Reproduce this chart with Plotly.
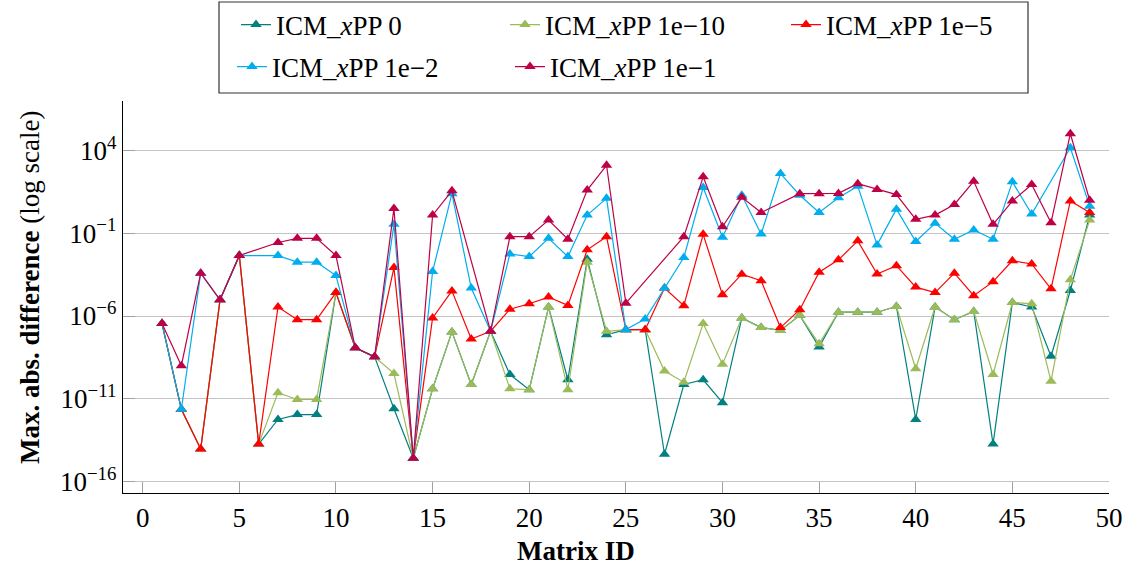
import plotly.graph_objects as go

matrix_id = list(range(1, 50))

icm_0 = [3.5e-7, 2.3e-12, 9e-15, 9.5e-6, 4.5e-3, 1.8e-14, 5.6e-13, 1.1e-12, 1.1e-12, 2.6e-5,
         1.2e-8, 3.4e-9, 2.5e-12, 2.5e-15, 4e-11, 1.1e-7, 7.2e-11, 1.2e-7, 2.9e-10, 3.5e-11,
         3.5e-6, 1.4e-10, 2.7e-3, 7.4e-8, 1.5e-7, 1.5e-7, 4.4e-15, 7.2e-11, 1.4e-10, 5.8e-12,
         7.6e-7, 2e-7, 1.35e-7, 1.1e-6, 1.35e-8, 1.7e-6, 1.7e-6, 1.7e-6, 3.8e-6, 5.6e-13,
         3.5e-6, 6e-7, 1.9e-6, 1.8e-14, 6.6e-6, 3.5e-6, 3.7e-9, 3.5e-5, 1.26]

icm_1e10 = [3.5e-7, 2.3e-12, 9e-15, 9.5e-6, 4.5e-3, 1.8e-14, 2.3e-11, 9e-12, 9e-12, 2.6e-5,
            1.2e-8, 3.4e-9, 3.3e-10, 2.5e-15, 4e-11, 1.1e-7, 7.2e-11, 1.2e-7, 4e-11, 3.5e-11,
            3.5e-6, 3.5e-11, 1.8e-3, 1.2e-7, 1.5e-7, 1.5e-7, 4.7e-10, 1e-10, 3.5e-7, 1.2e-9,
            7.6e-7, 2e-7, 1.35e-7, 1.1e-6, 2.1e-8, 1.7e-6, 1.7e-6, 1.7e-6, 3.8e-6, 6.5e-10,
            3.5e-6, 6e-7, 1.9e-6, 2.9e-10, 6.6e-6, 5.5e-6, 1.15e-10, 1.55e-4, 0.63]

icm_1e5 = [3.5e-7, 2.3e-12, 9e-15, 9.5e-6, 4.5e-3, 1.8e-14, 3.5e-6, 6e-7, 6e-7, 2.6e-5,
           1.2e-8, 3.4e-9, 8.5e-4, 2.5e-15, 7.6e-7, 3.3e-5, 4.1e-8, 1.2e-7, 2.6e-6, 5.5e-6,
           1.4e-5, 4.4e-6, 1e-2, 6.3e-2, 1.5e-7, 1.5e-7, 4.9e-5, 4.2e-6, 8.7e-2, 1.9e-5,
           3.4e-4, 1.35e-4, 2e-7, 2.4e-6, 4.5e-4, 2.5e-3, 3.5e-2, 3.5e-4, 1.1e-3, 5.6e-5,
           2.6e-5, 3.9e-4, 1.7e-5, 1.2e-4, 2.2e-3, 1.4e-3, 4.4e-5, 9.1, 1.8]

icm_1e2 = [3.5e-7, 2.3e-12, 3.9e-4, 9.5e-6, 4.5e-3, None, 4.5e-3, 1.8e-3, 1.8e-3, 2.8e-4,
           1.2e-8, 3.4e-9, 0.35, 2.5e-15, 4.9e-4, 25, 4.9e-5, 1.2e-7, 5.6e-3, 3.9e-3,
           0.05, 3.9e-3, 1.26, 13, 1.5e-7, 6.6e-7, 4.9e-5, 3.4e-3, 59, 0.058,
           20, 0.091, 410, 20, 1.8, 14, 71, 0.02, 2.9, 0.032,
           0.4, 0.044, 0.16, 0.044, 130, 1.45, None, 1.5e4, 4.4]

icm_1e1 = [3.5e-7, 1e-9, 3.9e-4, 9.5e-6, 4.5e-3, None, 0.028, 0.05, 0.05, 4.5e-3,
           1.2e-8, 3.4e-9, 3.2, 2.5e-15, 1.26, 37, None, 1.2e-7, 0.063, 0.063,
           0.63, 0.044, 41, 1300, 6e-6, None, None, 0.063, 260, 0.25,
           15, 1.8, None, 25, 25, 26, 100, 45, 22, 0.7,
           1.26, 5.6, 140, 0.35, 8.9, 89, 0.44, 1.05e5, 10]

series_names = ["ICM_<i>x</i>PP 0", "ICM_<i>x</i>PP 1e−10", "ICM_<i>x</i>PP 1e−5",
                "ICM_<i>x</i>PP 1e−2", "ICM_<i>x</i>PP 1e−1"]
series_values = [icm_0, icm_1e10, icm_1e5, icm_1e2, icm_1e1]
series_colors = ["#00807f", "#9bbb59", "#ff0000", "#00aeef", "#be0046"]
legend_ids = ["legend", "legend2", "legend3", "legend4", "legend5"]

y_tick_vals = [1e-16, 1e-11, 1e-6, 1e-1, 1e4]
y_tick_text = ["10<sup>−16</sup>", "10<sup>−11</sup>", "10<sup>−6</sup>", "10<sup>−1</sup>", "10<sup>4</sup>"]
x_tick_vals = [0, 5, 10, 15, 20, 25, 30, 35, 40, 45, 50]

FONT = "Liberation Serif"
FS = 27

fig = go.Figure()
for name, vals, col, lg in zip(series_names, series_values, series_colors, legend_ids):
    fig.add_trace(go.Scatter(
        x=matrix_id, y=vals, name=name, mode="lines+markers",
        connectgaps=True, legend=lg,
        line=dict(color=col, width=1.2),
        marker=dict(symbol="triangle-up", size=10, color=col, line=dict(width=0)),
    ))

W, H = 1132, 566
# legend positions (pixels): item left x, row centre y
leg_pos = [(236, 25), (505, 25), (786, 25), (232, 67), (510, 67)]
legend_cfg = {}
for lg, (px, py) in zip(legend_ids, leg_pos):
    legend_cfg[lg] = dict(
        xref="container", yref="container", x=px / W, y=1 - py / H,
        xanchor="left", yanchor="middle", orientation="h",
        bgcolor="rgba(0,0,0,0)", borderwidth=0,
        font=dict(family=FONT, size=FS, color="black"),
        itemclick=False,
    )

l, r, t, b = 123, 23, 101, 73
pw, ph = W - l - r, H - t - b

def px_to_paper_x(px):
    return (px - l) / pw

def py_to_paper_y(py):
    return (H - b - py) / ph

fig.update_layout(
    width=W, height=H,
    margin=dict(l=l, r=r, t=t, b=b, autoexpand=False),
    paper_bgcolor="white", plot_bgcolor="white",
    font=dict(family=FONT, size=FS, color="black"),
    showlegend=True,
    **legend_cfg,
    xaxis=dict(
        range=[-1.02, 50], tickvals=x_tick_vals, ticks="inside", ticklen=11,
        tickcolor="#a0a0a0", tickwidth=1, showgrid=False, zeroline=False,
        showline=True, linecolor="black", linewidth=1.3, mirror=False,
        tickfont=dict(family=FONT, size=FS, color="black"),
    ),
    yaxis=dict(
        type="log", range=[-16.7, 7.0], tickvals=y_tick_vals, ticktext=y_tick_text,
        ticks="inside", ticklen=12, tickcolor="#a0a0a0", tickwidth=1,
        showgrid=True, gridcolor="#c4c4c4", gridwidth=1, zeroline=False,
        showline=True, linecolor="black", linewidth=1.3, mirror=False,
        tickfont=dict(family=FONT, size=FS, color="black"),
    ),
    shapes=[dict(
        type="rect", xref="paper", yref="paper",
        x0=px_to_paper_x(219), x1=px_to_paper_x(1028),
        y0=py_to_paper_y(93), y1=py_to_paper_y(2),
        line=dict(color="#333333", width=1.2), fillcolor="rgba(0,0,0,0)", layer="above",
    )],
    annotations=[
        dict(text="<b>Max. abs. difference</b> (log scale)", textangle=-90,
             xref="paper", yref="paper", x=px_to_paper_x(30), y=py_to_paper_y(288),
             xanchor="center", yanchor="middle", showarrow=False,
             font=dict(family=FONT, size=FS, color="black")),
        dict(text="<b>Matrix ID</b>", xref="paper", yref="paper",
             x=px_to_paper_x(576), y=py_to_paper_y(551),
             xanchor="center", yanchor="middle", showarrow=False,
             font=dict(family=FONT, size=FS, color="black")),
    ],
)

fig.write_html("out.html")
